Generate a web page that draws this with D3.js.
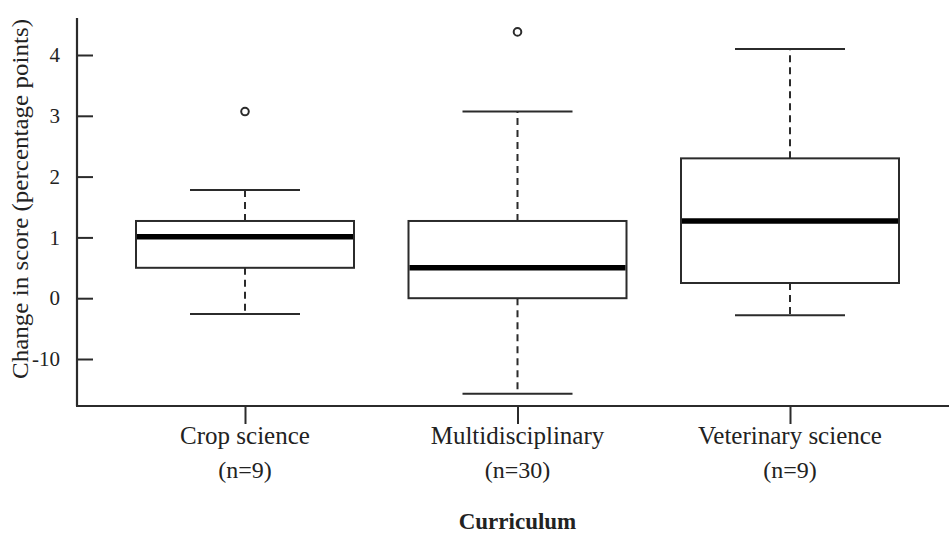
<!DOCTYPE html>
<html>
<head>
<meta charset="utf-8">
<script src="https://cdn.jsdelivr.net/npm/d3@7"></script>
<style>
  body { margin: 0; background: #fff; }
  text { font-family: "Liberation Serif", serif; fill: #222; }
</style>
</head>
<body>
<svg class="chart"></svg>
<script>
const [width, height] = [949, 533]

// Values.
const categories = ['Crop science', 'Multidisciplinary', 'Veterinary science']
const nLabels = ['(n=9)', '(n=30)', '(n=9)']
const whiskerLow = [-0.26, -1.57, -0.28]
const q1 = [0.5, 0.0, 0.25]
const median = [1.01, 0.5, 1.27]
const q3 = [1.27, 1.27, 2.3]
const whiskerHigh = [1.78, 3.07, 4.1]
const outliers = [[3.07], [4.38], []]
const yTicks = [-1, 0, 1, 2, 3, 4]
const yTickLabels = ['-10', '0', '1', '2', '3', '4']

const ink = '#2b2b2b'

const svg = d3.select('svg.chart')
	.attr('width', width)
	.attr('height', height)

const x = d3.scalePoint()
	.domain(categories)
	.range([245, 790])

const y = d3.scaleLinear()
	.domain([-1, 4])
	.range([359, 55])

const boxW = 218
const capW = 110

const boxes = categories.map((c, i) => ({
	c, lo: whiskerLow[i], q1: q1[i], med: median[i], q3: q3[i], hi: whiskerHigh[i], out: outliers[i],
}))

// axes lines (L shape)
svg.append('line')
	.attr('x1', 77).attr('x2', 77)
	.attr('y1', 18).attr('y2', 406)
	.attr('stroke', ink).attr('stroke-width', 2.2)
svg.append('line')
	.attr('x1', 76).attr('x2', width)
	.attr('y1', 406).attr('y2', 406)
	.attr('stroke', ink).attr('stroke-width', 2.2)

const yAxis = svg.append('g')
	.attr('transform', 'translate(77,0)')
	.call(d3.axisLeft(y)
		.tickValues(yTicks)
		.tickFormat((d, i) => yTickLabels[i])
		.tickSize(-16)
		.tickPadding(17))
yAxis.select('.domain').remove()
yAxis.selectAll('.tick line').attr('stroke', ink).attr('stroke-width', 2)
yAxis.selectAll('.tick text')
	.attr('font-family', 'Liberation Serif')
	.attr('font-size', 21)
	.attr('fill', '#222')

const xAxis = svg.append('g')
	.attr('transform', 'translate(0,406)')
	.call(d3.axisBottom(x).tickSize(18).tickFormat(''))
xAxis.select('.domain').remove()
xAxis.selectAll('.tick line').attr('stroke', ink).attr('stroke-width', 2)

const labels = svg.append('g')
labels.selectAll('text.cat')
		.data(categories)
	.enter().append('text')
		.attr('class', 'cat')
		.attr('x', d => x(d))
		.attr('y', 444)
		.attr('text-anchor', 'middle')
		.attr('font-size', 25)
		.text(d => d)
labels.selectAll('text.n')
		.data(categories)
	.enter().append('text')
		.attr('class', 'n')
		.attr('x', d => x(d))
		.attr('y', 478)
		.attr('text-anchor', 'middle')
		.attr('font-size', 24)
		.text((d, i) => nLabels[i])

svg.append('text')
	.attr('x', x(categories[1]))
	.attr('y', 529)
	.attr('text-anchor', 'middle')
	.attr('font-size', 23)
	.attr('font-weight', 'bold')
	.text('Curriculum')

svg.append('text')
	.attr('transform', 'translate(28,199) rotate(-90)')
	.attr('text-anchor', 'middle')
	.attr('font-size', 23)
	.attr('textLength', 360)
	.attr('lengthAdjust', 'spacingAndGlyphs')
	.text('Change in score (percentage points)')

const g = svg.selectAll('g.box')
		.data(boxes)
	.enter().append('g')
		.attr('class', 'box')

// whiskers
g.append('line')
	.attr('x1', d => x(d.c)).attr('x2', d => x(d.c))
	.attr('y1', d => y(d.q3)).attr('y2', d => y(d.hi))
	.attr('stroke', ink).attr('stroke-width', 2).attr('stroke-dasharray', '7,5')
g.append('line')
	.attr('x1', d => x(d.c)).attr('x2', d => x(d.c))
	.attr('y1', d => y(d.q1)).attr('y2', d => y(d.lo))
	.attr('stroke', ink).attr('stroke-width', 2).attr('stroke-dasharray', '7,5')
g.append('line')
	.attr('x1', d => x(d.c) - capW / 2).attr('x2', d => x(d.c) + capW / 2)
	.attr('y1', d => y(d.hi)).attr('y2', d => y(d.hi))
	.attr('stroke', ink).attr('stroke-width', 2)
g.append('line')
	.attr('x1', d => x(d.c) - capW / 2).attr('x2', d => x(d.c) + capW / 2)
	.attr('y1', d => y(d.lo)).attr('y2', d => y(d.lo))
	.attr('stroke', ink).attr('stroke-width', 2)

// box
g.append('rect')
	.attr('x', d => x(d.c) - boxW / 2)
	.attr('width', boxW)
	.attr('y', d => y(d.q3))
	.attr('height', d => y(d.q1) - y(d.q3))
	.attr('fill', '#fff')
	.attr('stroke', ink)
	.attr('stroke-width', 2)

// median
g.append('line')
	.attr('x1', d => x(d.c) - boxW / 2 + 1).attr('x2', d => x(d.c) + boxW / 2 - 1)
	.attr('y1', d => y(d.med)).attr('y2', d => y(d.med))
	.attr('stroke', '#000').attr('stroke-width', 5.5)

// outliers
g.selectAll('circle')
		.data(d => d.out.map(v => ({ c: d.c, v })))
	.enter().append('circle')
		.attr('cx', d => x(d.c))
		.attr('cy', d => y(d.v))
		.attr('r', 3.8)
		.attr('fill', 'none')
		.attr('stroke', ink)
		.attr('stroke-width', 2)
</script>
</body>
</html>
